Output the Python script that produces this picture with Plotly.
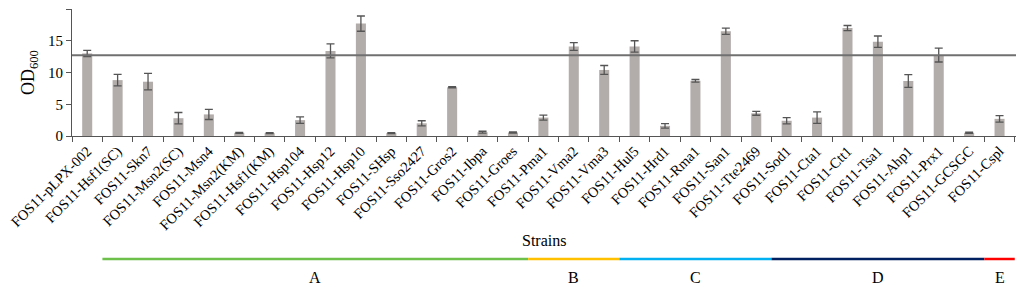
import plotly.graph_objects as go

strains = ["FOS11-pLPX-002", "FOS11-Hsf1(SC)", "FOS11-Skn7", "FOS11-Msn2(SC)", "FOS11-Msn4",
           "FOS11-Msn2(KM)", "FOS11-Hsf1(KM)", "FOS11-Hsp104", "FOS11-Hsp12", "FOS11-Hsp10",
           "FOS11-SHsp", "FOS11-Sso2427", "FOS11-Gros2", "FOS11-Ibpa", "FOS11-Groes",
           "FOS11-Pma1", "FOS11-Vma2", "FOS11-Vma3", "FOS11-Hul5", "FOS11-Hrd1",
           "FOS11-Rma1", "FOS11-San1", "FOS11-Tte2469", "FOS11-Sod1", "FOS11-Cta1",
           "FOS11-Ctt1", "FOS11-Tsa1", "FOS11-Ahp1", "FOS11-Prx1", "FOS11-GCSGC", "FOS11-Cspl"]
od600 = [13.0, 8.8, 8.55, 2.8, 3.4, 0.5, 0.45, 2.5, 13.4, 17.7,
         0.45, 2.0, 7.67, 0.6, 0.55, 2.9, 14.1, 10.4, 14.1, 1.6,
         8.7, 16.5, 3.57, 2.4, 2.9, 17.0, 14.85, 8.66, 12.75, 0.5, 2.7]
od600_err = [0.5, 0.9, 1.3, 0.9, 0.8, 0.08, 0.08, 0.5, 1.1, 1.2,
             0.08, 0.4, 0.1, 0.15, 0.1, 0.4, 0.6, 0.7, 0.9, 0.35,
             0.2, 0.5, 0.3, 0.5, 0.9, 0.4, 0.9, 1.0, 1.1, 0.1, 0.5]
reference_level = 12.7

group_names = ["A", "B", "C", "D", "E"]
group_first = ["FOS11-Hsf1(SC)", "FOS11-Pma1", "FOS11-Hul5", "FOS11-Sod1", "FOS11-Cspl"]
group_last = ["FOS11-Groes", "FOS11-Vma3", "FOS11-Tte2469", "FOS11-GCSGC", "FOS11-Cspl"]
group_colors = ["#6DC04A", "#FFC000", "#00B0F0", "#002060", "#FF0000"]

FONT = "Liberation Serif"

fig = go.Figure()
fig.add_trace(go.Bar(
    x=strains, y=od600,
    marker=dict(color="#B2ACAA", line=dict(width=0)),
    error_y=dict(type="data", array=od600_err, visible=True,
                 color="#555555", thickness=1.3, width=4),
    showlegend=False,
))

# reference line
fig.add_shape(type="line", xref="paper", yref="y", x0=0, x1=1.003,
              y0=reference_level, y1=reference_level,
              line=dict(color="#707070", width=2))

# group lines and labels
line_y = (136 - 259) / 127
label_y = (136 - 277) / 127
for name, first, last, col in zip(group_names, group_first, group_last, group_colors):
    i0 = strains.index(first) - 0.5
    i1 = strains.index(last) + 0.5
    fig.add_shape(type="line", xref="x", yref="paper", x0=i0, x1=i1,
                  y0=line_y, y1=line_y, line=dict(color=col, width=2.5))
    fig.add_annotation(x=(i0 + i1) / 2, y=label_y, xref="x", yref="paper",
                       text=name, showarrow=False, yanchor="middle",
                       font=dict(family=FONT, size=16, color="black"))

fig.add_annotation(x=0.5, y=(136 - 241) / 127, xref="paper", yref="paper",
                   text="Strains", showarrow=False, yanchor="middle",
                   font=dict(family=FONT, size=16, color="black"))
fig.add_annotation(x=-0.045, y=0.5, xref="paper", yref="paper", xanchor="center",
                   text="OD<sub>600</sub>", showarrow=False, textangle=-90,
                   font=dict(family=FONT, size=18, color="black"))

# page body has an 8px margin; size the figure to fit the 1024x287 window
fig.update_layout(
    width=1016, height=279,
    margin=dict(l=64, r=8, t=1, b=151, autoexpand=False),
    plot_bgcolor="white", paper_bgcolor="white",
    bargap=0.67,
    font=dict(family=FONT, size=14, color="black"),
)
fig.update_xaxes(type="category", tickangle=-45, tickson="boundaries",
                 ticks="outside", ticklen=5, tickcolor="#555555",
                 showline=True, linecolor="#555555", linewidth=1, automargin=False,
                 showgrid=False, tickfont=dict(family=FONT, size=14.5, color="black"))
fig.update_yaxes(range=[0, 20], dtick=5, ticks="outside", ticklen=5,
                 tickcolor="#555555", showline=True, linecolor="#555555",
                 linewidth=1, showgrid=False, zeroline=False, automargin=False,
                 tickfont=dict(family=FONT, size=15, color="black"))

fig.write_html("out.html")
